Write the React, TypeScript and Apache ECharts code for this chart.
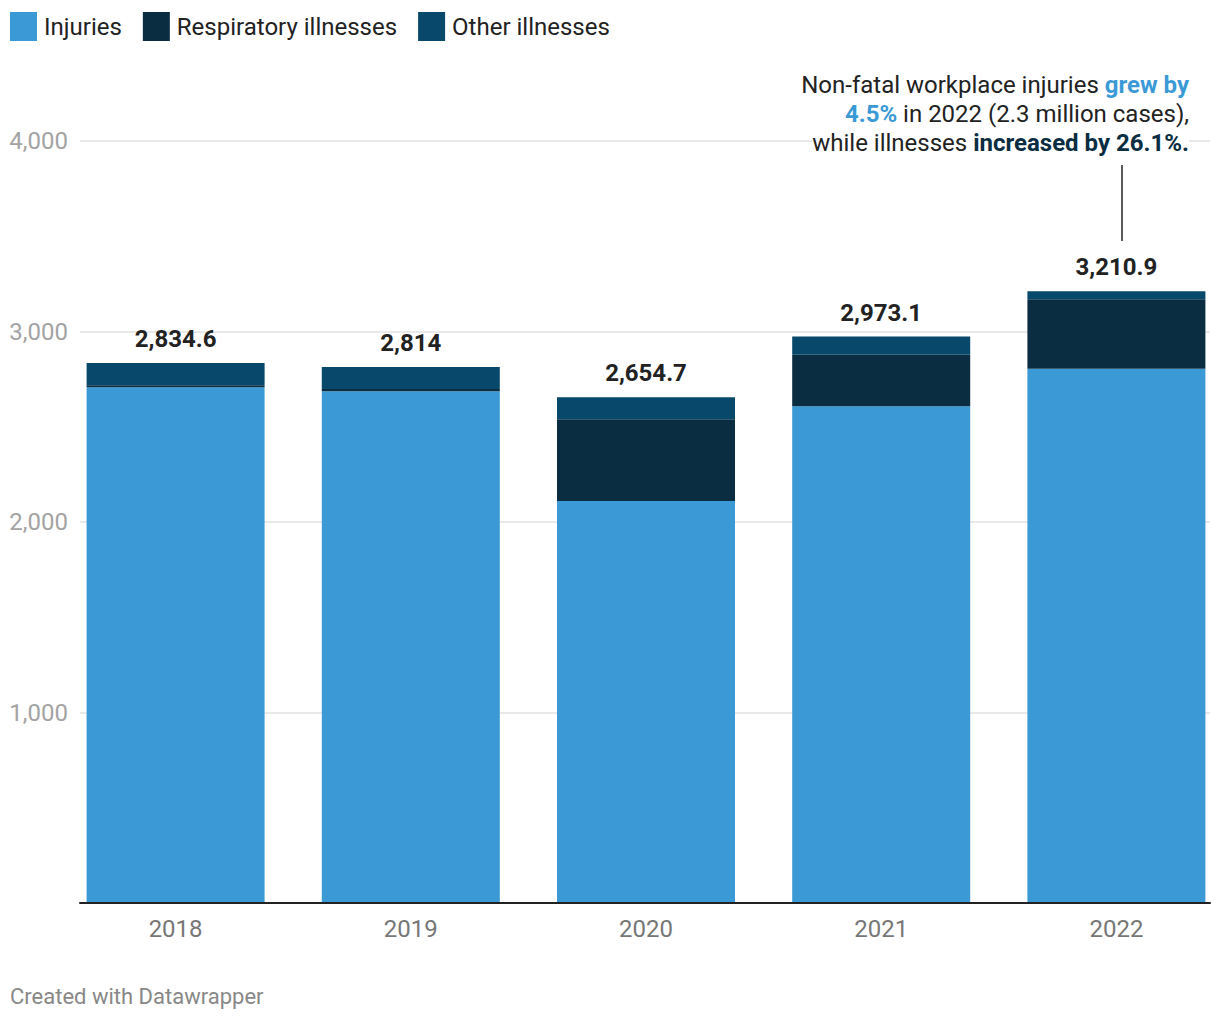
import React, { useEffect, useRef } from "react";
import * as echarts from "echarts";

const years = ["2018", "2019", "2020", "2021", "2022"];
const injuries = [2707.4, 2686.8, 2110.6, 2607.9, 2804.2];
const respiratory = [10.0, 10.8, 428.7, 269.6, 364.5];
const otherIllnesses = [117.2, 116.4, 115.4, 95.6, 42.2];
const yTicks = [0, 1000, 2000, 3000, 4000];
const noteLines = [
  "{n|Non-fatal workplace injuries }{b|grew by}",
  "{b|4.5%}{n| in 2022 (2.3 million cases),}",
  "{n|while illnesses }{d|increased by 26.1%.}",
];

const totals = injuries.map((v, i) =>
  Math.round((v + respiratory[i] + otherIllnesses[i]) * 10) / 10
);

const FONT = "Roboto";
const CANVAS_W = 1240; // inner chart canvas, clipped to 1220 by wrapper

export default function App() {
  const ref = useRef<HTMLDivElement>(null);
  useEffect(() => {
    if (!ref.current) return;
    const chart = echarts.init(ref.current, null, { renderer: "svg" });
    const yMin = yTicks[0];
    const yMax = yTicks[yTicks.length - 1];
    const extra = CANVAS_W - 1220;
    const rich = {
      n: { fontSize: 24, lineHeight: 29, fill: "#222", fontFamily: FONT },
      b: { fontSize: 24, lineHeight: 29, fill: "#3b9ad6", fontWeight: "bold", fontFamily: FONT },
      d: { fontSize: 24, lineHeight: 29, fill: "#0a2d42", fontWeight: "bold", fontFamily: FONT },
    };
    chart.setOption({
      animation: false,
      textStyle: { fontFamily: FONT },
      legend: {
        left: 10,
        top: 12,
        padding: 0,
        icon: "rect",
        itemWidth: 27,
        itemHeight: 29,
        itemGap: 21,
        textStyle: { fontSize: 24, color: "#222", fontFamily: FONT, padding: [0, 0, 0, 2] },
        data: ["Injuries", "Respiratory illnesses", "Other illnesses"],
        selectedMode: false,
      },
      grid: [
        { left: 58, width: 1176, top: 141, bottom: 117, containLabel: false },
        { left: 80, right: 10 + extra, top: 141, bottom: 117, containLabel: false },
      ],
      xAxis: [
        {
          type: "category",
          gridIndex: 0,
          data: years,
          axisTick: { show: false },
          axisLine: { show: false },
          axisLabel: {
            color: "#777",
            fontSize: 24,
            margin: 14,
            fontFamily: FONT,
          },
        },
        {
          type: "value",
          gridIndex: 1,
          min: 0,
          max: 1,
          splitLine: { show: false },
          axisTick: { show: false },
          axisLabel: { show: false },
          axisLine: { show: true, lineStyle: { color: "#222", width: 2 } },
          z: 5,
        },
      ],
      yAxis: [
        {
          type: "value",
          gridIndex: 0,
          min: yMin,
          max: yMax,
          interval: 1000,
          show: false,
          splitLine: { show: false },
        },
        {
          type: "value",
          gridIndex: 1,
          min: yMin,
          max: yMax,
          interval: 1000,
          axisLine: { show: false },
          axisTick: { show: false },
          splitLine: { lineStyle: { color: "#e2e2e2", width: 1.5 } },
          axisLabel: {
            formatter: (v: number) => (v === 0 ? "" : v.toLocaleString("en-US")),
            color: "#a3a3a3",
            fontSize: 24,
            margin: 12,
            fontFamily: FONT,
          },
        },
      ],
      series: [
        {
          name: "Injuries",
          type: "bar",
          stack: "total",
          xAxisIndex: 0,
          yAxisIndex: 0,
          barWidth: 178,
          itemStyle: { color: "#3b9ad6" },
          data: injuries,
        },
        {
          name: "Respiratory illnesses",
          type: "bar",
          stack: "total",
          xAxisIndex: 0,
          yAxisIndex: 0,
          barWidth: 178,
          itemStyle: { color: "#0a2d42" },
          data: respiratory,
        },
        {
          name: "Other illnesses",
          type: "bar",
          stack: "total",
          xAxisIndex: 0,
          yAxisIndex: 0,
          barWidth: 178,
          itemStyle: { color: "#08486b" },
          data: otherIllnesses,
          label: {
            show: true,
            position: "top",
            distance: 12,
            fontSize: 24,
            fontWeight: "bold",
            color: "#222",
            fontFamily: FONT,
            formatter: (p: any) =>
              totals[p.dataIndex].toLocaleString("en-US", { maximumFractionDigits: 1 }),
          },
        },
      ],
      graphic: [
        ...noteLines.map((t, i) => ({
          type: "text",
          right: 31 + extra,
          top: 70 + i * 29,
          z: 100,
          style: {
            text: t,
            align: "right",
            backgroundColor: "#fff",
            rich,
          },
        })),
        {
          type: "line",
          z: 100,
          shape: { x1: 1122, y1: 165, x2: 1122, y2: 241 },
          style: { stroke: "#222", lineWidth: 1.5 },
        },
        {
          type: "text",
          left: 10,
          top: 985,
          style: {
            text: "Created with Datawrapper",
            fontSize: 22,
            fill: "#888",
            fontFamily: FONT,
          },
        },
      ],
    });
    return () => chart.dispose();
  }, []);
  return (
    <div
      style={{
        position: "absolute",
        left: 0,
        top: 0,
        width: 1220,
        height: 1020,
        overflow: "hidden",
      }}
    >
      <div ref={ref} style={{ width: CANVAS_W, height: 1020 }} />
    </div>
  );
}
